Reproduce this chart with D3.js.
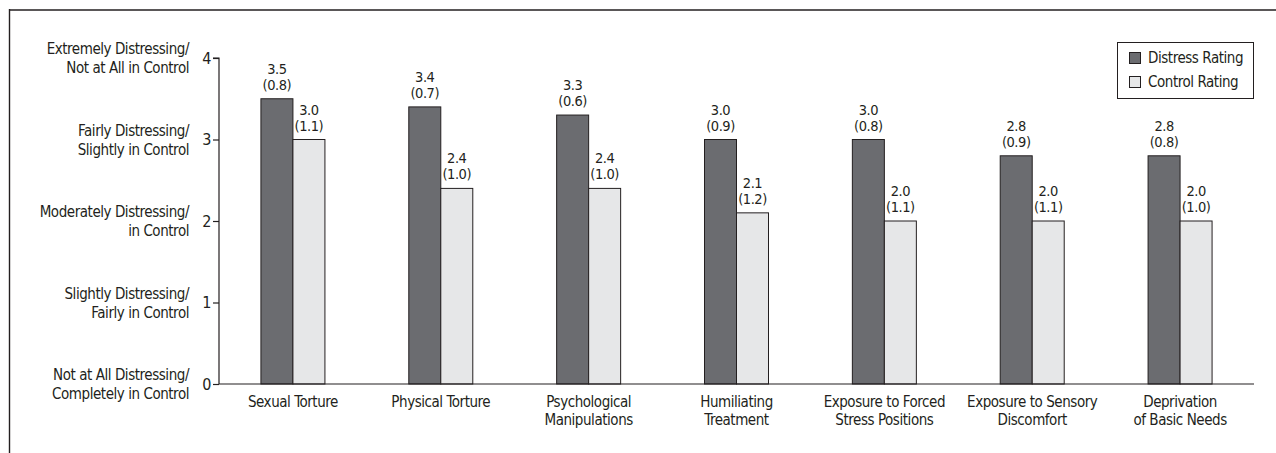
<!DOCTYPE html>
<html><head><meta charset="utf-8">
<script src="https://cdn.jsdelivr.net/npm/d3@7"></script>
<style>
body{margin:0;background:#fff;}
text{font-family:"Liberation Sans Narrow","DejaVu Sans Condensed","Arial Narrow",sans-serif;fill:#231f20;letter-spacing:-0.45px;}
</style></head>
<body><svg id="c" width="1276" height="453"></svg>
<script>
const categories = [["Sexual Torture"],["Physical Torture"],["Psychological","Manipulations"],["Humiliating","Treatment"],["Exposure to Forced","Stress Positions"],["Exposure to Sensory","Discomfort"],["Deprivation","of Basic Needs"]];
const distress = [3.5,3.4,3.3,3.0,3.0,2.8,2.8];
const distressSD = [0.8,0.7,0.6,0.9,0.8,0.9,0.8];
const control = [3.0,2.4,2.4,2.1,2.0,2.0,2.0];
const controlSD = [1.1,1.0,1.0,1.2,1.1,1.1,1.0];
const yTicks = [0,1,2,3,4];
const yTickLabels = [["Not at All Distressing/","Completely in Control"],["Slightly Distressing/","Fairly in Control"],["Moderately Distressing/","in Control"],["Fairly Distressing/","Slightly in Control"],["Extremely Distressing/","Not at All in Control"]];
const seriesNames = ["Distress Rating","Control Rating"];
const colors = ["#6b6c70","#e6e7e8"];

const svg = d3.select("#c");
const ink = "#231f20";
// frame
svg.append("line").attr("x1",9).attr("x2",1276).attr("y1",10).attr("y2",10).attr("stroke",ink).attr("stroke-width",1.6);
svg.append("line").attr("x1",9.5).attr("x2",9.5).attr("y1",9).attr("y2",453).attr("stroke",ink).attr("stroke-width",1.4);

const x = d3.scaleBand().domain(d3.range(categories.length)).range([219,1254]).padding(0);
const y = d3.scaleLinear().domain([0,4]).range([384,58]);
const barW = 32;

const series = [distress, control];
const sds = [distressSD, controlSD];
const g = svg.append("g");
series.forEach((vals, s) => {
  g.selectAll(null).data(vals).enter().append("rect")
    .attr("x",(d,i)=> x(i)+x.bandwidth()/2 - barW + s*barW)
    .attr("y",d=>y(d)).attr("width",barW).attr("height",d=>y(0)-y(d))
    .attr("fill",colors[s]).attr("stroke",ink).attr("stroke-width",1);
  const lab = g.selectAll(null).data(vals).enter().append("text")
    .attr("text-anchor","middle").attr("font-size",14.5);
  lab.append("tspan").attr("x",(d,i)=> x(i)+x.bandwidth()/2 - barW/2 + s*barW)
    .attr("y",d=>y(d)-25).text(d=>d.toFixed(1));
  lab.append("tspan").attr("x",(d,i)=> x(i)+x.bandwidth()/2 - barW/2 + s*barW)
    .attr("y",d=>y(d)-9).text((d,i)=>"("+sds[s][i].toFixed(1)+")");
});

// y axis
const yAxis = d3.axisLeft(y).tickValues(yTicks).tickSize(6).tickFormat(d3.format("d"));
const ya = svg.append("g").attr("transform","translate(219,0)").call(yAxis);
ya.select(".domain").attr("stroke",ink).attr("stroke-width",1.2).attr("d","M-6,"+y(4)+"H0V"+y(0));
ya.selectAll(".tick line").attr("stroke",ink).attr("stroke-width",1.2);
ya.selectAll(".tick text").attr("font-size",16).attr("x",-8).attr("fill",ink)
  .style("font-family",'"Liberation Sans Narrow","DejaVu Sans Condensed",sans-serif');

// y category labels
const yl = svg.append("g").selectAll(null).data(yTicks).enter().append("text")
  .attr("text-anchor","end").attr("font-size",15);
yl.append("tspan").attr("x",189).attr("y",d=>y(d)-4).text((d,i)=>yTickLabels[i][0]);
yl.append("tspan").attr("x",189).attr("y",d=>y(d)+15).text((d,i)=>yTickLabels[i][1]);

// x axis
svg.append("line").attr("x1",219).attr("x2",1254).attr("y1",y(0)).attr("y2",y(0)).attr("stroke",ink).attr("stroke-width",1.2);
const xl = svg.append("g").selectAll(null).data(categories).enter().append("text")
  .attr("text-anchor","middle").attr("font-size",15);
xl.each(function(d,i){
  const t = d3.select(this);
  d.forEach((line,k)=>{
    t.append("tspan").attr("x",x(i)+x.bandwidth()/2).attr("y",407+k*18).text(line);
  });
});

// legend
const lg = svg.append("g");
lg.append("rect").attr("x",1117.5).attr("y",42.5).attr("width",136).attr("height",56)
  .attr("fill","#fff").attr("stroke",ink).attr("stroke-width",1);
seriesNames.forEach((n,s)=>{
  lg.append("rect").attr("x",1129.5).attr("y",52.5+s*24).attr("width",11).attr("height",11)
    .attr("fill",colors[s]).attr("stroke",ink).attr("stroke-width",1);
  lg.append("text").attr("x",1148).attr("y",63+s*24).attr("font-size",15).text(n);
});
</script></body></html>
